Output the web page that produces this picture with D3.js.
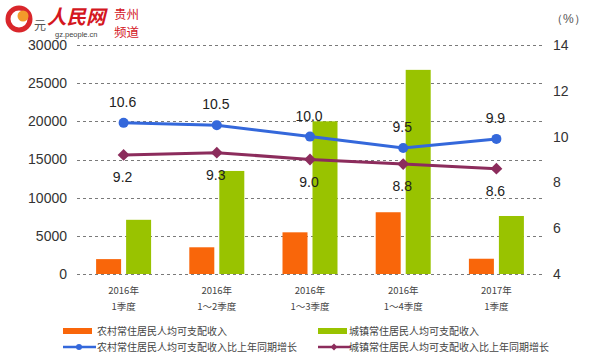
<!DOCTYPE html>
<html><head><meta charset="utf-8">
<script src="https://cdn.jsdelivr.net/npm/d3@7/dist/d3.min.js"></script>
<style>body{margin:0;background:#fff}svg{display:block}</style>
</head><body>
<script>
const categories = [["2016年","1季度"],["2016年","1～2季度"],["2016年","1～3季度"],["2016年","1～4季度"],["2017年","1季度"]];
const ruralIncome = [1950, 3500, 5460, 8090, 2000];
const urbanIncome = [7100, 13500, 20000, 26743, 7600];
const ruralGrowth = [10.6, 10.5, 10.0, 9.5, 9.9];
const urbanGrowth = [9.2, 9.3, 9.0, 8.8, 8.6];
const leftTicks = [0, 5000, 10000, 15000, 20000, 25000, 30000];
const rightTicks = [4, 6, 8, 10, 12, 14];
const legendNames = ["农村常住居民人均可支配收入","城镇常住居民人均可支配收入","农村常住居民人均可支配收入比上年同期增长","城镇常住居民人均可支配收入比上年同期增长"];

const W = 600, H = 357;
const svg = d3.select("body").append("svg").attr("width", W).attr("height", H);
const x0 = 77, x1 = 543, yTop = 45, yBot = 274;
const x = d3.scaleBand().domain(d3.range(categories.length)).range([x0, x1]);
const yL = d3.scaleLinear().domain([0, 30000]).range([yBot, yTop]);
const yR = d3.scaleLinear().domain([4, 14]).range([yBot, yTop]);
const cOr = "#f9660a", cGr = "#99c300", cBl = "#3468db", cPu = "#8c2c5c";
const font = "Arial, 'Liberation Sans', sans-serif";
const cjk = "'Noto Sans CJK SC', sans-serif";

// gridlines
svg.append("g").selectAll("line").data(leftTicks).join("line")
  .attr("x1", x0).attr("x2", x1)
  .attr("y1", d => Math.round(yL(d)) + 0.5).attr("y2", d => Math.round(yL(d)) + 0.5)
  .attr("stroke", "#7a7a7a").attr("stroke-width", 1).attr("stroke-dasharray", "3,3");

// left axis
const axL = d3.axisLeft(yL).tickValues(leftTicks).tickSize(0).tickPadding(0).tickFormat(d3.format("d"));
const gL = svg.append("g").attr("transform", `translate(67,0)`).call(axL);
gL.select(".domain").remove();
gL.selectAll("text").attr("font-family", font).attr("font-size", 14).attr("fill", "#333");

// right axis
const axR = d3.axisRight(yR).tickValues(rightTicks).tickSize(0).tickPadding(0);
const gR = svg.append("g").attr("transform", `translate(553,0)`).call(axR);
gR.select(".domain").remove();
gR.selectAll("text").attr("font-family", font).attr("font-size", 14).attr("fill", "#333");
svg.append("text").attr("x", 551).attr("y", 23).attr("font-family", font).attr("font-size", 12).attr("fill", "#555").text("（%）");

// bars
const bw = 25, gap = 5;
const bars = svg.append("g");
bars.selectAll(".r").data(ruralIncome).join("rect")
  .attr("x", (d, i) => x(i) + x.bandwidth() / 2 - gap / 2 - bw)
  .attr("y", d => yL(d)).attr("width", bw).attr("height", d => yL(0) - yL(d)).attr("fill", cOr);
bars.selectAll(".u").data(urbanIncome).join("rect")
  .attr("x", (d, i) => x(i) + x.bandwidth() / 2 + gap / 2)
  .attr("y", d => yL(d)).attr("width", bw).attr("height", d => yL(0) - yL(d)).attr("fill", cGr);

// lines
const cx = i => x(i) + x.bandwidth() / 2;
const line = d3.line().x((d, i) => cx(i));
svg.append("path").datum(ruralGrowth).attr("d", line.y(d => yR(d)))
  .attr("fill", "none").attr("stroke", cBl).attr("stroke-width", 3);
svg.append("path").datum(urbanGrowth).attr("d", line.y(d => yR(d)))
  .attr("fill", "none").attr("stroke", cPu).attr("stroke-width", 3);
svg.append("g").selectAll("circle").data(ruralGrowth).join("circle")
  .attr("cx", (d, i) => cx(i)).attr("cy", d => yR(d)).attr("r", 5).attr("fill", cBl);
svg.append("g").selectAll("path").data(urbanGrowth).join("path")
  .attr("d", d3.symbol(d3.symbolDiamond2, 90))
  .attr("transform", (d, i) => `translate(${cx(i)},${yR(d)})`).attr("fill", cPu);

// data labels
svg.append("g").selectAll("text").data(ruralGrowth).join("text")
  .attr("x", (d, i) => cx(i) - 1).attr("y", d => yR(d) - 16)
  .attr("text-anchor", "middle").attr("font-family", font).attr("font-size", 14).attr("fill", "#222")
  .text(d => d3.format(".1f")(d));
svg.append("g").selectAll("text").data(urbanGrowth).join("text")
  .attr("x", (d, i) => cx(i) - 1).attr("y", d => yR(d) + 27)
  .attr("text-anchor", "middle").attr("font-family", font).attr("font-size", 14).attr("fill", "#222")
  .text(d => d3.format(".1f")(d));

// category labels
const cg = svg.append("g");
categories.forEach((c, i) => {
  c.forEach((t, j) => {
    cg.append("text").attr("x", cx(i)).attr("y", 294 + j * 16).attr("text-anchor", "middle")
      .attr("font-family", cjk).attr("font-size", 9.5).attr("fill", "#444").text(t);
  });
});

// legend
const leg = svg.append("g").attr("font-family", cjk).attr("font-size", 10).attr("fill", "#444");
const lx = [63, 318], ly = [331, 347];
leg.append("rect").attr("x", lx[0]).attr("y", ly[0] - 3).attr("width", 29).attr("height", 6).attr("fill", cOr);
leg.append("rect").attr("x", lx[1]).attr("y", ly[0] - 3).attr("width", 29).attr("height", 6).attr("fill", cGr);
[[lx[0], cBl, "c"], [lx[1], cPu, "d"]].forEach(([px, col, m]) => {
  leg.append("line").attr("x1", px).attr("x2", px + 33).attr("y1", ly[1]).attr("y2", ly[1]).attr("stroke", col).attr("stroke-width", 2.5);
  if (m === "c") leg.append("circle").attr("cx", px + 16).attr("cy", ly[1]).attr("r", 3).attr("fill", col);
  else leg.append("path").attr("d", d3.symbol(d3.symbolDiamond2, 30)).attr("transform", `translate(${px + 16},${ly[1]})`).attr("fill", col);
});
[[lx[0] + 34, ly[0]], [lx[1] + 31, ly[0]], [lx[0] + 34, ly[1]], [lx[1] + 31, ly[1]]].forEach(([tx, ty], k) => {
  leg.append("text").attr("x", tx).attr("y", ty + 4).text(legendNames[k]);
});

// unit + logo
svg.append("text").attr("x", 34).attr("y", 30).attr("font-family", cjk).attr("font-size", 12).attr("fill", "#555").text("元");
const logo = svg.append("g");
logo.append("circle").attr("cx", 19).attr("cy", 19).attr("r", 11).attr("fill", "none").attr("stroke", "#d9262b").attr("stroke-width", 5);
logo.append("circle").attr("cx", 23).attr("cy", 16).attr("r", 5.5).attr("fill", "#f39a2a");
logo.append("text").attr("x", 47).attr("y", 24).attr("font-family", cjk).attr("font-size", 19.5)
  .attr("font-weight", "bold").attr("font-style", "italic").attr("fill", "#d4171f").text("人民网");
logo.append("text").attr("x", 114).attr("y", 18.5).attr("font-family", cjk).attr("font-size", 12.5).attr("fill", "#d4171f").text("贵州");
logo.append("text").attr("x", 114).attr("y", 37).attr("font-family", cjk).attr("font-size", 12.5).attr("fill", "#d4171f").text("频道");
logo.append("text").attr("x", 55).attr("y", 36.5).attr("font-family", font).attr("font-size", 7.5).attr("fill", "#444").text("gz.people.cn");
</script>
</body></html>
